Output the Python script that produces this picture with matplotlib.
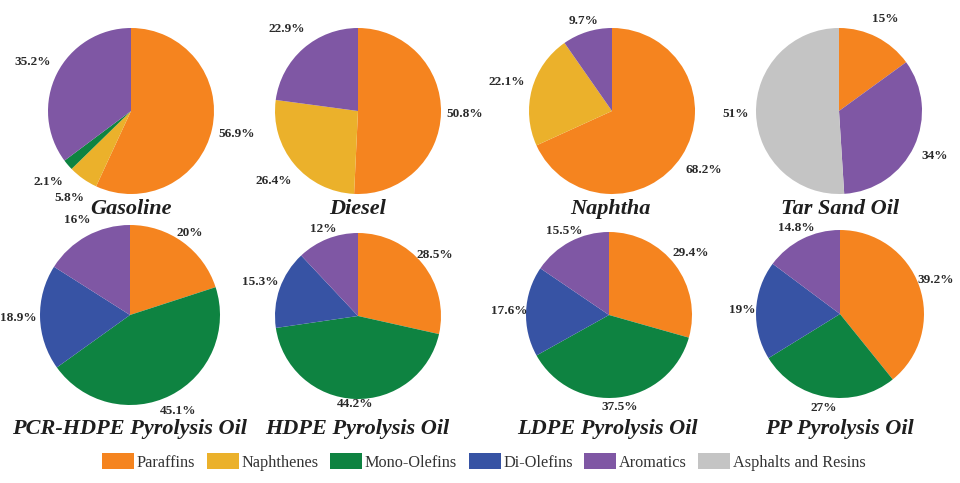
import numpy as np
import matplotlib
matplotlib.use("Agg")
import matplotlib.pyplot as plt
from matplotlib.patches import Patch

# ---------------- data ----------------
components = ["Paraffins", "Naphthenes", "Mono-Olefins", "Di-Olefins", "Aromatics", "Asphalts and Resins"]
colors = {"Paraffins": "#F5841F", "Naphthenes": "#EBB12B", "Mono-Olefins": "#0E8341",
          "Di-Olefins": "#3753A4", "Aromatics": "#7F57A4", "Asphalts and Resins": "#C4C4C4"}

titles = ["Gasoline", "Diesel", "Naphtha", "Tar Sand Oil",
          "PCR-HDPE Pyrolysis Oil", "HDPE Pyrolysis Oil", "LDPE Pyrolysis Oil", "PP Pyrolysis Oil"]

gasoline_comp = ["Paraffins", "Naphthenes", "Mono-Olefins", "Aromatics"]
gasoline_vals = [56.9, 5.8, 2.1, 35.2]
gasoline_lbls = ["56.9%", "5.8%", "2.1%", "35.2%"]

diesel_comp = ["Paraffins", "Naphthenes", "Aromatics"]
diesel_vals = [50.8, 26.4, 22.9]
diesel_lbls = ["50.8%", "26.4%", "22.9%"]

naphtha_comp = ["Paraffins", "Naphthenes", "Aromatics"]
naphtha_vals = [68.2, 22.1, 9.7]
naphtha_lbls = ["68.2%", "22.1%", "9.7%"]

tarsand_comp = ["Paraffins", "Aromatics", "Asphalts and Resins"]
tarsand_vals = [15, 34, 51]
tarsand_lbls = ["15%", "34%", "51%"]

pcr_comp = ["Paraffins", "Mono-Olefins", "Di-Olefins", "Aromatics"]
pcr_vals = [20, 45.1, 18.9, 16]
pcr_lbls = ["20%", "45.1%", "18.9%", "16%"]

hdpe_comp = ["Paraffins", "Mono-Olefins", "Di-Olefins", "Aromatics"]
hdpe_vals = [28.5, 44.2, 15.3, 12]
hdpe_lbls = ["28.5%", "44.2%", "15.3%", "12%"]

ldpe_comp = ["Paraffins", "Mono-Olefins", "Di-Olefins", "Aromatics"]
ldpe_vals = [29.4, 37.5, 17.6, 15.5]
ldpe_lbls = ["29.4%", "37.5%", "17.6%", "15.5%"]

pp_comp = ["Paraffins", "Mono-Olefins", "Di-Olefins", "Aromatics"]
pp_vals = [39.2, 27, 19, 14.8]
pp_lbls = ["39.2%", "27%", "19%", "14.8%"]

series = [
    (gasoline_comp, gasoline_vals, gasoline_lbls),
    (diesel_comp, diesel_vals, diesel_lbls),
    (naphtha_comp, naphtha_vals, naphtha_lbls),
    (tarsand_comp, tarsand_vals, tarsand_lbls),
    (pcr_comp, pcr_vals, pcr_lbls),
    (hdpe_comp, hdpe_vals, hdpe_lbls),
    (ldpe_comp, ldpe_vals, ldpe_lbls),
    (pp_comp, pp_vals, pp_lbls),
]

# ---------------- layout (pixels) ----------------
W, H = 960, 483
centers = [(131, 111), (358, 111), (612, 111), (839, 111),
           (130, 315), (358, 316), (609, 315), (840, 314)]
radii = [83, 83, 83, 83, 90, 83, 83, 84]
# label distance (in radii) for each wedge label
label_dist = [[1.3, 1.29, 1.31, 1.32],
              [1.29, 1.32, 1.31],
              [1.31, 1.32, 1.14],
              [1.24, 1.27, 1.25],
              [1.13, 1.19, 1.24, 1.21],
              [1.18, 1.06, 1.25, 1.13],
              [1.24, 1.12, 1.2, 1.15],
              [1.21, 1.14, 1.16, 1.15]]
title_x = [131, 358, 610, 840, 129, 357, 607, 839]
title_y = [209, 209, 209, 209, 429, 429, 429, 429]

serif = ["Liberation Serif", "DejaVu Serif"]
plt.rcParams["font.family"] = serif

fig = plt.figure(figsize=(W / 100, H / 100), dpi=100)
fig.patch.set_facecolor("white")

for i, (comp, vals, lbls) in enumerate(series):
    cx, cy = centers[i]
    r = radii[i]
    ax = fig.add_axes([(cx - r) / W, 1 - (cy + r) / H, 2 * r / W, 2 * r / H])
    wedges, texts = ax.pie(vals, labels=lbls, colors=[colors[c] for c in comp],
                           startangle=90, counterclock=False,
                           wedgeprops=dict(linewidth=0),
                           textprops=dict(fontsize=9.5, fontweight="bold", color="#2a2a2a",
                                          family=serif))
    for w, t, d in zip(wedges, texts, label_dist[i]):
        th = np.deg2rad(0.5 * (w.theta1 + w.theta2))
        t.set_position((d * np.cos(th), d * np.sin(th)))
        t.set_horizontalalignment("center")
        t.set_verticalalignment("center")
    ax.set_xlim(-1, 1)
    ax.set_ylim(-1, 1)
    ax.set_aspect("equal")
    ax.axis("off")
    fig.text(title_x[i] / W, 1 - title_y[i] / H, titles[i], ha="center", va="center",
             fontsize=16, fontweight="bold", fontstyle="italic", color="#1e1e1e", family=serif)

handles = [Patch(facecolor=colors[c], edgecolor="none", label=c) for c in components]
leg = fig.legend(handles=handles, loc="center", bbox_to_anchor=(484 / W, 1 - 462 / H), ncol=6,
                 frameon=False, handlelength=1.97, handleheight=1.05,
                 handletextpad=0.15, columnspacing=0.72, prop=dict(family=serif, size=11.7))
for t in leg.get_texts():
    t.set_color("#333333")

fig.savefig("out.png", dpi=100, facecolor="white")
